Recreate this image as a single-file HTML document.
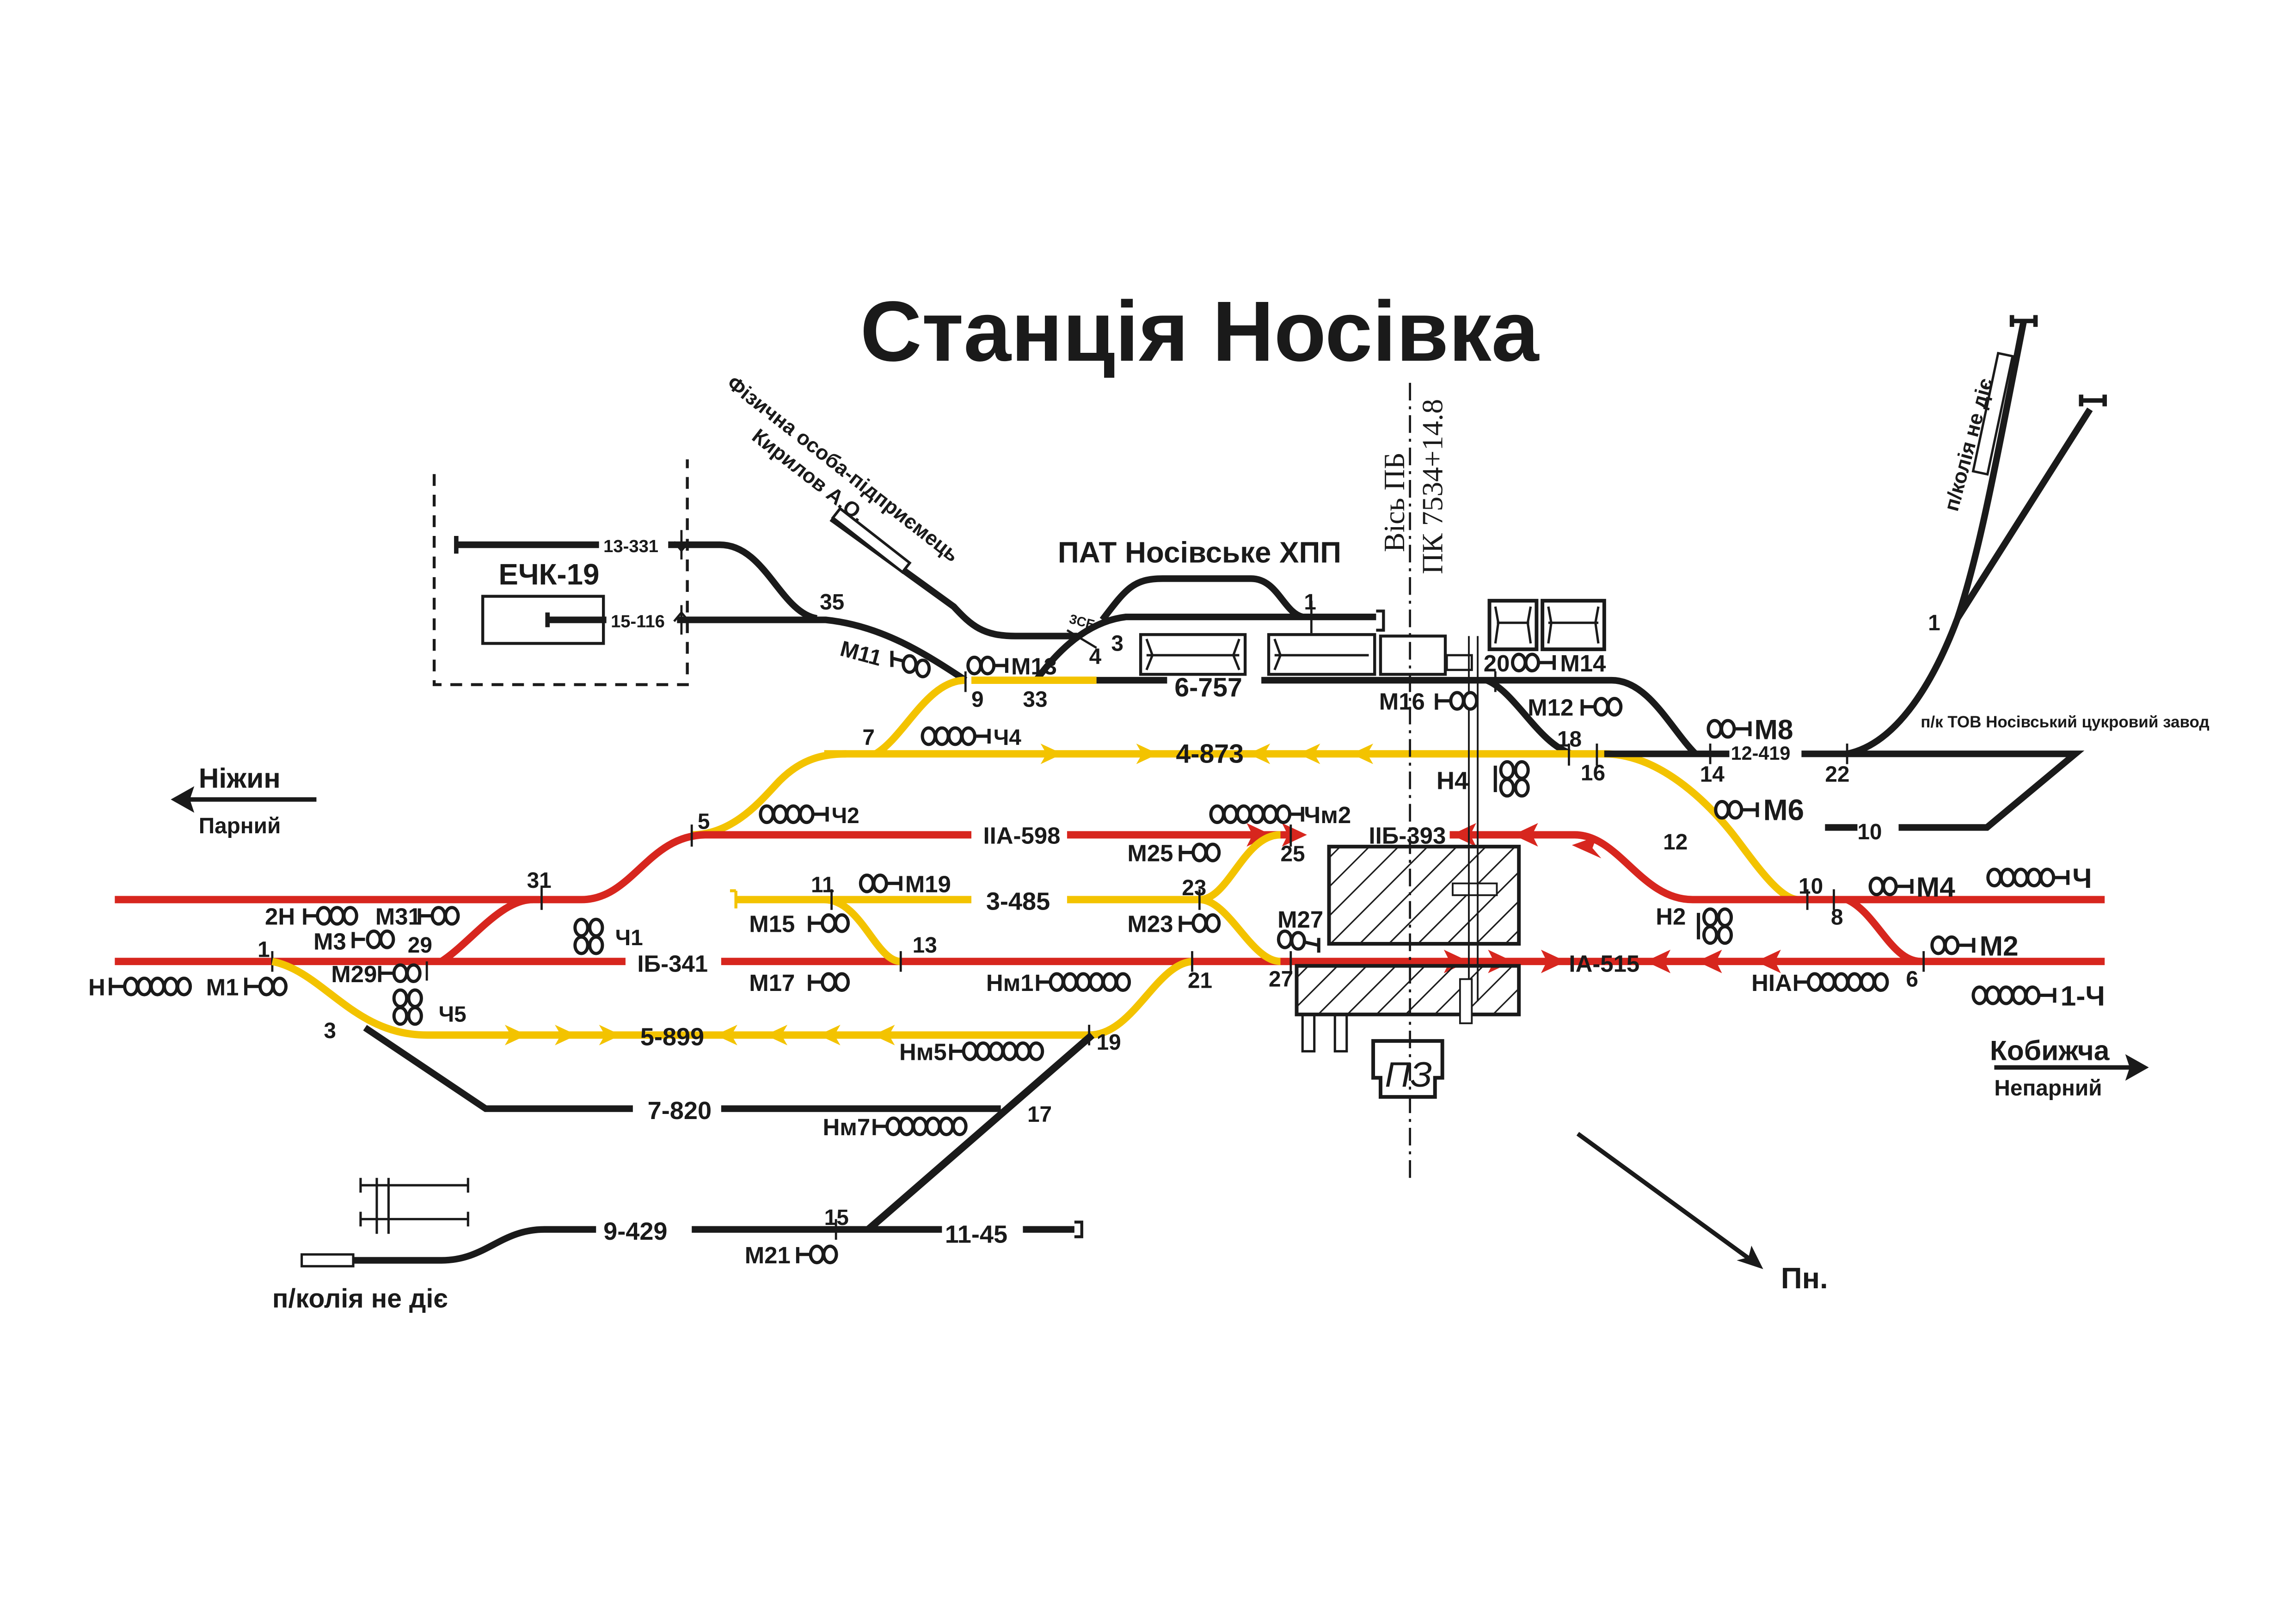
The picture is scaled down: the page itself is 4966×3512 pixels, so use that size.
<!DOCTYPE html>
<html><head><meta charset="utf-8"><style>
html,body{margin:0;padding:0;background:#fff}
svg{display:block}
text{font-family:"Liberation Sans Narrow","Liberation Sans",sans-serif;font-weight:bold;fill:#1a1a1a}
.t{font-size:17px}
.n{font-size:15px}
.k{stroke:#1a1a1a;stroke-width:4.5;fill:none}
.r{stroke:#d7261e;stroke-width:5;fill:none}
.y{stroke:#f3c300;stroke-width:5;fill:none}
.th{stroke:#1a1a1a;stroke-width:1.6;fill:none}
.e{fill:#fff;stroke:#1a1a1a;stroke-width:2.2}
</style></head><body>
<svg width="4966" height="3512" viewBox="0 0 1560 1103" preserveAspectRatio="none" xmlns="http://www.w3.org/2000/svg">
<defs>
<ellipse id="o" cx="0" cy="0" rx="4.3" ry="5.6" class="e"/>
<pattern id="h" width="14" height="14" patternUnits="userSpaceOnUse" patternTransform="rotate(45)"><line x1="0" y1="0" x2="0" y2="14" stroke="#1a1a1a" stroke-width="2"/></pattern>
</defs>
<rect width="1560" height="1103" fill="#fff"/>

<text x="815" y="245" text-anchor="middle" style="font-family:'Liberation Sans',sans-serif;font-size:58px">Станція Носівка</text>

<!-- ЕЧК box -->
<path d="M295,322 V465 H467 V312" stroke="#1a1a1a" stroke-width="2" stroke-dasharray="8,6" fill="none"/>
<text x="373" y="397" text-anchor="middle" style="font-size:20px">ЕЧК-19</text>
<rect x="328" y="405" width="82" height="32" fill="none" stroke="#1a1a1a" stroke-width="2"/>
<path class="k" d="M310,370 H407 M454,370 H489 C520,370 530,416 555,420" />
<path d="M310,364 V376" stroke="#1a1a1a" stroke-width="3"/>
<path class="k" d="M372,421 H412 M460,421 H561 C600,425 630,445 656,462" />
<path d="M372,416 V426" stroke="#1a1a1a" stroke-width="3"/>
<text x="410" y="375" style="font-size:12px">13-331</text>
<text x="415" y="426" style="font-size:12px">15-116</text>
<path d="M463,360 V380 M463,411 V431 M458,368 L463,374 L468,368 M458,422 L463,416 L468,422" stroke="#1a1a1a" stroke-width="1.5" fill="none"/>
<!-- Фізична siding -->
<path class="k" d="M565,352 L648,412 C660,425 668,432 690,432 H732" />
<rect x="562" y="363" width="60" height="8" transform="rotate(38 592 367)" fill="#fff" stroke="#1a1a1a" stroke-width="1.8"/>
<text x="493" y="262" transform="rotate(38 493 262)" style="font-size:14px">Фізична особа-підприємець</text>
<text x="510" y="298" transform="rotate(38 510 298)" style="font-size:14px">Кирилов А.О.</text>
<text x="557" y="414" class="n">35</text>
<text x="570" y="445" transform="rotate(15 570 445)" class="n">M11</text>

<!-- ПАТ -->
<text x="815" y="382" text-anchor="middle" style="font-size:20px">ПАТ Носівське ХПП</text>
<path class="k" d="M704,462 C720,440 740,422 765,419 H935" />
<path class="k" d="M749,421 C765,400 770,393 790,393 H850 C868,393 872,416 885,419" />
<path d="M935,415 H940 V428 H935" stroke="#1a1a1a" stroke-width="2" fill="none"/>
<path d="M891,408 V430" stroke="#1a1a1a" stroke-width="1.5"/>
<text x="886" y="414" class="n">1</text>
<text x="726" y="423" transform="rotate(15 726 423)" style="font-size:9px">3СБ</text>
<path d="M725,428 L745,440" stroke="#1a1a1a" stroke-width="1.5"/>
<text x="740" y="451" class="n">4</text>
<text x="755" y="442" class="n">3</text>
<rect x="775" y="431" width="71" height="27" fill="#fff" stroke="#1a1a1a" stroke-width="2"/>
<path d="M779,445 H842 M779,434 L783,445 L779,455 M842,434 L838,445 L842,455" class="th"/>
<rect x="862" y="431" width="72" height="27" fill="#fff" stroke="#1a1a1a" stroke-width="2"/>
<path d="M866,445 H930 M866,434 L870,445 L866,455" class="th"/>
<rect x="938" y="432" width="44" height="26" fill="#fff" stroke="#1a1a1a" stroke-width="2"/>
<rect x="983" y="445" width="17" height="10" fill="#fff" stroke="#1a1a1a" stroke-width="1.5"/>
<rect x="1012" y="408" width="32" height="33" fill="#fff" stroke="#1a1a1a" stroke-width="2.5"/>
<path d="M1016,412 L1018,423 L1016,437 M1040,412 L1038,423 L1040,437 M1017,423 H1039" class="th"/>
<rect x="1048" y="408" width="42" height="33" fill="#fff" stroke="#1a1a1a" stroke-width="2.5"/>
<path d="M1052,423 H1086 M1052,412 L1054,423 L1052,437 M1086,412 L1084,423 L1086,437" class="th"/>

<!-- 6-757 etc -->
<path class="k" d="M745,462 H793 M857,462 H1095 C1120,462 1135,495 1152,512" />
<path class="k" d="M1010,462 C1030,470 1045,505 1068,512" />
<path class="y" d="M660,462 H745" />
<path class="y" d="M656,462 C630,462 615,500 595,512" />
<text x="798" y="473" style="font-size:18px">6-757</text>
<text x="660" y="480" class="n">9</text>
<text x="695" y="480" class="n">33</text>
<text x="586" y="506" class="n">7</text>
<path d="M656,456 V470 M1016,456 V470" stroke="#1a1a1a" stroke-width="1.5"/>

<!-- 4-873 -->
<path class="y" d="M560,512 H1090 C1130,512 1165,550 1180,570 C1195,590 1210,611 1222,611" />
<path class="y" d="M470,567 C500,567 520,540 530,530 C545,515 560,512 575,512" />
<path class="k" d="M1090,512 H1175 M1224,512 H1410 L1350,562 H1290 M1240,562 H1262" />
<path class="k" d="M1255,512 C1290,505 1315,460 1330,420 C1345,375 1355,320 1375,218" />
<path class="k" d="M1330,420 L1420,278" />
<path d="M1367,218 H1383 M1367,214 V222 M1383,214 V222 M1414,272 H1430 M1414,268 V276 M1430,268 V276" stroke="#1a1a1a" stroke-width="3"/>
<rect x="1349" y="240" width="10" height="82" transform="rotate(12 1354 281)" fill="#fff" stroke="#1a1a1a" stroke-width="1.6"/>
<text x="1330" y="348" transform="rotate(-75 1330 348)" style="font-size:14px">п/колія не діє</text>
<text x="1310" y="428" class="n">1</text>
<text x="1305" y="494" style="font-size:11px">п/к ТОВ Носівський цукровий завод</text>
<text x="822" y="518" text-anchor="middle" style="font-size:18px">4-873</text>
<text x="1176" y="516" style="font-size:13px">12-419</text>
<text x="1155" y="531" class="n">14</text>
<text x="1240" y="531" class="n">22</text>
<text x="1058" y="507" class="n">18</text>
<text x="1074" y="530" class="n">16</text>
<text x="1262" y="570" class="n">10</text>
<text x="1130" y="577" class="n">12</text>
<text x="1222" y="607" class="n">10</text>
<text x="1244" y="628" class="n">8</text>
<path d="M1066,505 V520 M1085,505 V520 M1162,505 V519 M1255,505 V519" stroke="#1a1a1a" stroke-width="1.5"/>
<!-- yellow arrows -->
<g fill="#f3c300">
<path d="M722,512 l-15,-7 l4,7 l-4,7z"/><path d="M787,512 l-15,-7 l4,7 l-4,7z"/>
<path d="M848,512 l15,-7 l-4,7 l4,7z"/><path d="M882,512 l15,-7 l-4,7 l4,7z"/><path d="M918,512 l15,-7 l-4,7 l4,7z"/>
<path d="M358,703 l-15,-7 l4,7 l-4,7z"/><path d="M392,703 l-15,-7 l4,7 l-4,7z"/><path d="M422,703 l-15,-7 l4,7 l-4,7z"/>
<path d="M486,703 l15,-7 l-4,7 l4,7z"/><path d="M520,703 l15,-7 l-4,7 l4,7z"/><path d="M556,703 l15,-7 l-4,7 l4,7z"/><path d="M593,703 l15,-7 l-4,7 l4,7z"/>
</g>

<!-- red main upper -->
<path class="r" d="M78,611 H395 C430,611 440,567 480,567 H660 M725,567 H875 M985,567 H1070 C1100,567 1115,611 1150,611 H1430" />
<path class="r" d="M300,653 C320,640 340,611 362,611" />
<path class="r" d="M1255,611 C1275,620 1285,653 1305,653" />
<path class="r" d="M78,653 H425 M490,653 H1430" />
<g fill="#d7261e">
<path d="M864,567 l-17,-8 l4,8 l-4,8z"/><path d="M888,567 l-17,-8 l4,8 l-4,8z"/>
<path d="M986,567 l17,-8 l-4,8 l4,8z"/><path d="M1028,567 l17,-8 l-4,8 l4,8z"/><path d="M1068,574 l17,-6 l-3,8 l6,7z"/>
<path d="M998,653 l-17,-8 l4,8 l-4,8z"/><path d="M1028,653 l-17,-8 l4,8 l-4,8z"/><path d="M1064,653 l-17,-8 l4,8 l-4,8z"/>
<path d="M1118,653 l17,-8 l-4,8 l4,8z"/><path d="M1153,653 l17,-8 l-4,8 l4,8z"/><path d="M1193,653 l17,-8 l-4,8 l4,8z"/>
</g>
<text x="668" y="573" style="font-size:16px">IIА-598</text>
<text x="930" y="573" style="font-size:16px">IIБ-393</text>
<text x="433" y="660" style="font-size:16px">IБ-341</text>
<text x="1066" y="660" style="font-size:16px">IА-515</text>
<text x="474" y="563" class="n">5</text>
<text x="358" y="603" class="n">31</text>
<text x="277" y="647" class="n">29</text>
<text x="175" y="650" class="n">1</text>
<text x="870" y="585" class="n">25</text>
<text x="862" y="670" class="n">27</text>
<text x="1295" y="670" class="n">6</text>
<path d="M368,603 V618 M470,560 V575 M290,653 V666 M185,646 V660 M877,560 V575 M877,646 V660 M1228,604 V618 M1246,604 V618 M1307,646 V660" stroke="#1a1a1a" stroke-width="1.5"/>

<!-- 3-485 -->
<path class="y" d="M500,611 H660 M725,611 H815 C835,611 845,567 870,567 M815,611 C835,611 850,653 870,653" />
<path d="M500,605 V617 M500,605 H496" stroke="#f3c300" stroke-width="2"/>
<path class="y" d="M560,611 C585,611 595,653 612,653" />
<text x="670" y="618" style="font-size:17px">3-485</text>
<text x="551" y="606" class="n">11</text>
<text x="620" y="647" class="n">13</text>
<text x="803" y="608" class="n">23</text>
<path d="M565,604 V618 M612,646 V660 M815,604 V618" stroke="#1a1a1a" stroke-width="1.5"/>

<!-- 5-899 -->
<path class="y" d="M185,653 C220,660 240,703 290,703 H740 C770,703 785,655 810,653" />
<text x="435" y="710" style="font-size:17px">5-899</text>
<text x="220" y="705" class="n">3</text>
<text x="745" y="713" class="n">19</text>
<text x="807" y="671" class="n">21</text>
<path d="M740,696 V710 M810,646 V660" stroke="#1a1a1a" stroke-width="1.5"/>

<!-- 7-820 / 17 / 15 -->
<path class="k" d="M248,698 L330,753 H430 M490,753 H680" />
<path class="k" d="M742,703 L590,835" style="stroke-width:5"/>
<text x="440" y="760" style="font-size:17px">7-820</text>
<text x="698" y="762" class="n">17</text>
<path class="k" d="M205,856 H300 C330,856 340,835 370,835 H405 M470,835 H640 M695,835 H730" />
<path d="M730,830 H735 V840 H730" stroke="#1a1a1a" stroke-width="2" fill="none"/>
<rect x="205" y="852" width="35" height="8" fill="#fff" stroke="#1a1a1a" stroke-width="1.6"/>
<path d="M245,805 H318 M245,828 H318 M245,800 V810 M318,800 V810 M245,823 V833 M318,823 V833 M256,800 V838 M264,800 V838" class="th"/>
<text x="410" y="842" style="font-size:17px">9-429</text>
<text x="642" y="844" style="font-size:17px">11-45</text>
<text x="560" y="832" class="n">15</text>
<path d="M568,828 V842" stroke="#1a1a1a" stroke-width="1.5"/>
<text x="185" y="888" style="font-size:18px">п/колія не діє</text>

<!-- hatched / building -->
<rect x="903" y="575" width="129" height="66" fill="url(#h)" stroke="#1a1a1a" stroke-width="2.5"/>
<rect x="881" y="656" width="151" height="33" fill="url(#h)" stroke="#1a1a1a" stroke-width="2.5"/>
<path d="M885,690 V714 H893 V690 M907,690 V714 H915 V690" class="th" stroke-width="2"/>
<rect x="987" y="600" width="30" height="8" fill="#fff" stroke="#1a1a1a" stroke-width="1.2"/>
<path d="M998,432 V680 M1004,432 V680" stroke="#1a1a1a" stroke-width="1.2"/>
<rect x="992" y="665" width="8" height="30" fill="#fff" stroke="#1a1a1a" stroke-width="1.2"/>
<path d="M933,707 H980 V732 H975 V745 H938 V732 H933 Z" fill="#fff" stroke="#1a1a1a" stroke-width="2.5"/>
<text x="957" y="738" text-anchor="middle" style="font-size:24px;font-style:italic;font-weight:normal">ПЗ</text>
<path d="M958,260 V800" stroke="#1a1a1a" stroke-width="1.5" stroke-dasharray="12,4,2,4"/>
<text x="954" y="375" transform="rotate(-90 954 375)" style="font-family:'Liberation Serif',serif;font-weight:normal;font-size:20px">Вісь ПБ</text>
<text x="980" y="390" transform="rotate(-90 980 390)" style="font-family:'Liberation Serif',serif;font-weight:normal;font-size:20px">ПК 7534+14.8</text>

<!-- direction arrows -->
<path d="M128,543 H215" stroke="#1a1a1a" stroke-width="3"/><path d="M116,543 l16,-9 l-3,9 l3,9z" fill="#1a1a1a"/>
<text x="135" y="535" style="font-size:19px">Ніжин</text>
<text x="135" y="566" style="font-size:15px">Парний</text>
<path d="M1355,725 H1448" stroke="#1a1a1a" stroke-width="3"/><path d="M1460,725 l-16,-9 l3,9 l-3,9z" fill="#1a1a1a"/>
<text x="1352" y="720" style="font-size:19px">Кобижча</text>
<text x="1355" y="744" style="font-size:15px">Непарний</text>
<path d="M1072,770 L1190,856" stroke="#1a1a1a" stroke-width="3"/><path d="M1198,862 l-8,-16 l-2,8 l-8,2z" fill="#1a1a1a"/>
<text x="1210" y="875" style="font-size:20px">Пн.</text>

<!-- signals -->
<g class="n">
<text x="60" y="676" style="font-size:16px">Н</text>
<path d="M75,664 V676 M75,670 H84" stroke="#1a1a1a" stroke-width="2.2"/>
<use href="#o" x="89" y="670"/><use href="#o" x="98" y="670"/><use href="#o" x="107" y="670"/><use href="#o" x="116" y="670"/><use href="#o" x="125" y="670"/>
<text x="140" y="676" style="font-size:16px">M1</text>
<path d="M167,664 V676 M167,670 H176" stroke="#1a1a1a" stroke-width="2.2"/>
<use href="#o" x="181" y="670"/><use href="#o" x="190" y="670"/>

<text x="180" y="628" style="font-size:16px">2Н</text>
<path d="M207,617 V628 M207,622 H215" stroke="#1a1a1a" stroke-width="2.2"/>
<use href="#o" x="220" y="622"/><use href="#o" x="229" y="622"/><use href="#o" x="238" y="622"/>
<text x="255" y="628" style="font-size:16px">M31</text>
<path d="M285,617 V628 M285,622 H293" stroke="#1a1a1a" stroke-width="2.2"/>
<use href="#o" x="298" y="622"/><use href="#o" x="307" y="622"/>
<text x="213" y="645" style="font-size:16px">M3</text>
<path d="M240,633 V644 M240,638 H248" stroke="#1a1a1a" stroke-width="2.2"/>
<use href="#o" x="254" y="638"/><use href="#o" x="263" y="638"/>
<text x="225" y="667" style="font-size:16px">M29</text>
<path d="M258,656 V667 M258,661 H267" stroke="#1a1a1a" stroke-width="2.2"/>
<use href="#o" x="272" y="661"/><use href="#o" x="281" y="661"/>
<use href="#o" x="395" y="630"/><use href="#o" x="405" y="630"/><use href="#o" x="395" y="642"/><use href="#o" x="405" y="642"/>
<text x="418" y="642" style="font-size:15px">Ч1</text>
<use href="#o" x="272" y="678"/><use href="#o" x="282" y="678"/><use href="#o" x="272" y="690"/><use href="#o" x="282" y="690"/>
<text x="298" y="694" style="font-size:15px">Ч5</text>

<use href="#o" x="521" y="553"/><use href="#o" x="530" y="553"/><use href="#o" x="539" y="553"/><use href="#o" x="548" y="553"/>
<path d="M553,553 H562 M562,548 V558" stroke="#1a1a1a" stroke-width="2.2"/>
<text x="565" y="559" style="font-size:15px">Ч2</text>
<use href="#o" x="631" y="500"/><use href="#o" x="640" y="500"/><use href="#o" x="649" y="500"/><use href="#o" x="658" y="500"/>
<path d="M663,500 H672 M672,495 V505" stroke="#1a1a1a" stroke-width="2.2"/>
<text x="675" y="506" style="font-size:15px">Ч4</text>
<path d="M606,442 V453 M606,447 L614,449" stroke="#1a1a1a" stroke-width="2.2"/>
<use href="#o" x="618" y="451"/><use href="#o" x="627" y="454"/>
<use href="#o" x="662" y="452"/><use href="#o" x="671" y="452"/>
<path d="M676,452 H684 M684,447 V457" stroke="#1a1a1a" stroke-width="2.2"/>
<text x="687" y="458" style="font-size:16px">M13</text>

<use href="#o" x="589" y="600"/><use href="#o" x="598" y="600"/>
<path d="M603,600 H612 M612,595 V605" stroke="#1a1a1a" stroke-width="2.2"/>
<text x="615" y="606" style="font-size:16px">M19</text>
<text x="509" y="633" style="font-size:16px">M15</text>
<path d="M550,622 V633 M550,627 H558" stroke="#1a1a1a" stroke-width="2.2"/>
<use href="#o" x="563" y="627"/><use href="#o" x="572" y="627"/>
<text x="509" y="673" style="font-size:16px">M17</text>
<path d="M550,662 V673 M550,667 H558" stroke="#1a1a1a" stroke-width="2.2"/>
<use href="#o" x="563" y="667"/><use href="#o" x="572" y="667"/>
<text x="670" y="673" style="font-size:16px">Нм1</text>
<path d="M705,662 V673 M705,667 H713" stroke="#1a1a1a" stroke-width="2.2"/>
<use href="#o" x="718" y="667"/><use href="#o" x="727" y="667"/><use href="#o" x="736" y="667"/><use href="#o" x="745" y="667"/><use href="#o" x="754" y="667"/><use href="#o" x="763" y="667"/>
<text x="611" y="720" style="font-size:16px">Нм5</text>
<path d="M646,709 V720 M646,714 H654" stroke="#1a1a1a" stroke-width="2.2"/>
<use href="#o" x="659" y="714"/><use href="#o" x="668" y="714"/><use href="#o" x="677" y="714"/><use href="#o" x="686" y="714"/><use href="#o" x="695" y="714"/><use href="#o" x="704" y="714"/>
<text x="559" y="771" style="font-size:16px">Нм7</text>
<path d="M594,760 V771 M594,765 H602" stroke="#1a1a1a" stroke-width="2.2"/>
<use href="#o" x="607" y="765"/><use href="#o" x="616" y="765"/><use href="#o" x="625" y="765"/><use href="#o" x="634" y="765"/><use href="#o" x="643" y="765"/><use href="#o" x="652" y="765"/>
<text x="506" y="858" style="font-size:16px">M21</text>
<path d="M542,847 V858 M542,852 H550" stroke="#1a1a1a" stroke-width="2.2"/>
<use href="#o" x="555" y="852"/><use href="#o" x="564" y="852"/>

<text x="766" y="585" style="font-size:16px">M25</text>
<path d="M802,574 V585 M802,579 H810" stroke="#1a1a1a" stroke-width="2.2"/>
<use href="#o" x="815" y="579"/><use href="#o" x="824" y="579"/>
<use href="#o" x="827" y="553"/><use href="#o" x="836" y="553"/><use href="#o" x="845" y="553"/><use href="#o" x="854" y="553"/><use href="#o" x="863" y="553"/><use href="#o" x="872" y="553"/>
<path d="M877,553 H885 M885,548 V558" stroke="#1a1a1a" stroke-width="2.2"/>
<text x="886" y="559" style="font-size:16px">Чм2</text>
<text x="766" y="633" style="font-size:16px">M23</text>
<path d="M802,622 V633 M802,627 H810" stroke="#1a1a1a" stroke-width="2.2"/>
<use href="#o" x="815" y="627"/><use href="#o" x="824" y="627"/>
<text x="868" y="630" style="font-size:16px">M27</text>
<use href="#o" x="873" y="638"/><use href="#o" x="882" y="639"/>
<path d="M887,640 L896,642 M896,637 V647" stroke="#1a1a1a" stroke-width="2.2"/>

<text x="937" y="482" style="font-size:16px">M16</text>
<path d="M976,471 V482 M976,476 H985" stroke="#1a1a1a" stroke-width="2.2"/>
<use href="#o" x="990" y="476"/><use href="#o" x="999" y="476"/>
<text x="1008" y="456" style="font-size:16px">20</text>
<use href="#o" x="1032" y="450"/><use href="#o" x="1041" y="450"/>
<path d="M1046,450 H1056 M1056,445 V455" stroke="#1a1a1a" stroke-width="2.2"/>
<text x="1060" y="456" style="font-size:16px">M14</text>
<text x="1038" y="486" style="font-size:16px">M12</text>
<path d="M1075,475 V486 M1075,480 H1083" stroke="#1a1a1a" stroke-width="2.2"/>
<use href="#o" x="1088" y="480"/><use href="#o" x="1097" y="480"/>
<text x="976" y="536" style="font-size:17px">Н4</text>
<path d="M1016,520 V538" stroke="#1a1a1a" stroke-width="2.2"/>
<use href="#o" x="1024" y="523"/><use href="#o" x="1034" y="523"/><use href="#o" x="1024" y="535"/><use href="#o" x="1034" y="535"/>

<use href="#o" x="1165" y="495"/><use href="#o" x="1174" y="495"/>
<path d="M1179,495 H1189 M1189,490 V500" stroke="#1a1a1a" stroke-width="2.2"/>
<text x="1192" y="502" style="font-size:19px">M8</text>
<use href="#o" x="1170" y="550"/><use href="#o" x="1179" y="550"/>
<path d="M1184,550 H1194 M1194,545 V555" stroke="#1a1a1a" stroke-width="2.2"/>
<text x="1198" y="557" style="font-size:20px">M6</text>
<use href="#o" x="1275" y="602"/><use href="#o" x="1284" y="602"/>
<path d="M1289,602 H1299 M1299,597 V607" stroke="#1a1a1a" stroke-width="2.2"/>
<text x="1302" y="609" style="font-size:19px">M4</text>
<use href="#o" x="1355" y="596"/><use href="#o" x="1364" y="596"/><use href="#o" x="1373" y="596"/><use href="#o" x="1382" y="596"/><use href="#o" x="1391" y="596"/>
<path d="M1396,596 H1405 M1405,591 V601" stroke="#1a1a1a" stroke-width="2.2"/>
<text x="1408" y="603" style="font-size:19px">Ч</text>
<text x="1125" y="628" style="font-size:16px">Н2</text>
<path d="M1154,620 V638" stroke="#1a1a1a" stroke-width="2.2"/>
<use href="#o" x="1162" y="623"/><use href="#o" x="1172" y="623"/><use href="#o" x="1162" y="635"/><use href="#o" x="1172" y="635"/>
<use href="#o" x="1317" y="642"/><use href="#o" x="1326" y="642"/>
<path d="M1331,642 H1341 M1341,637 V647" stroke="#1a1a1a" stroke-width="2.2"/>
<text x="1345" y="649" style="font-size:19px">M2</text>
<text x="1190" y="673" style="font-size:16px">НІА</text>
<path d="M1220,662 V673 M1220,667 H1228" stroke="#1a1a1a" stroke-width="2.2"/>
<use href="#o" x="1233" y="667"/><use href="#o" x="1242" y="667"/><use href="#o" x="1251" y="667"/><use href="#o" x="1260" y="667"/><use href="#o" x="1269" y="667"/><use href="#o" x="1278" y="667"/>
<use href="#o" x="1345" y="676"/><use href="#o" x="1354" y="676"/><use href="#o" x="1363" y="676"/><use href="#o" x="1372" y="676"/><use href="#o" x="1381" y="676"/>
<path d="M1386,676 H1396 M1396,671 V681" stroke="#1a1a1a" stroke-width="2.2"/>
<text x="1400" y="683" style="font-size:19px">1-Ч</text>
</g>
</svg>
</body></html>
